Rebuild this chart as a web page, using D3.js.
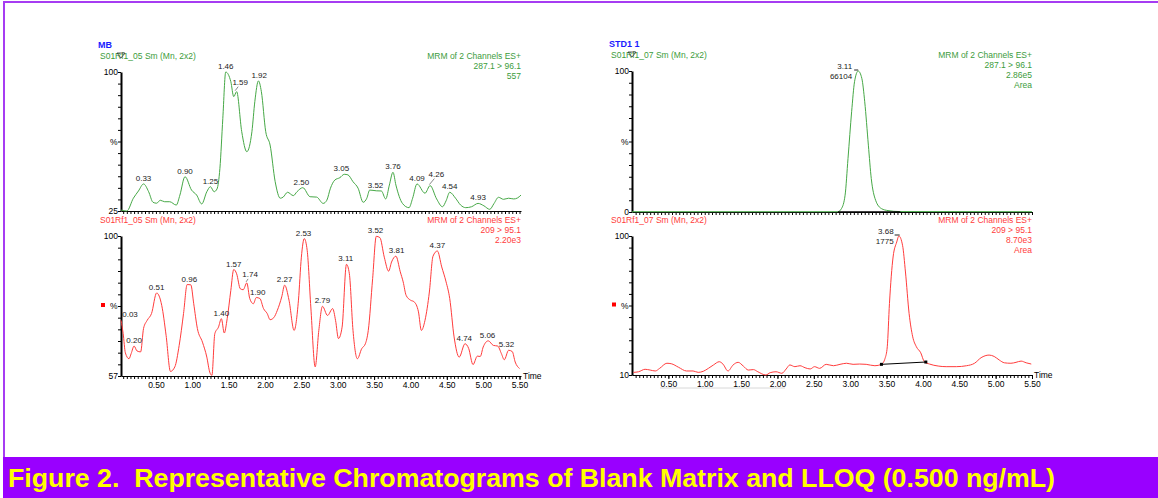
<!DOCTYPE html>
<html>
<head>
<meta charset="utf-8">
<script src="https://cdn.jsdelivr.net/npm/d3@7"></script>
<style>
body { margin: 0; background: #fff; }
text { font-family: "Liberation Sans", Arial, sans-serif; }
</style>
</head>
<body>
<svg id="chart" width="1158" height="498"></svg>
<script>
// ---- data ----
// MB, channel 287.1 > 96.1
const mbQTimes = [0.02,0.10,0.19,0.26,0.33,0.40,0.46,0.51,0.56,0.62,
  0.69,0.78,0.83,0.90,0.99,1.06,1.13,1.20,1.25,1.30,
  1.34,1.38,1.42,1.46,1.53,1.57,1.61,1.68,1.75,1.82,
  1.86,1.91,1.95,2.01,2.07,2.14,2.21,2.25,2.31,2.39,
  2.44,2.52,2.62,2.71,2.80,2.85,2.90,2.96,3.03,3.09,
  3.14,3.21,3.28,3.35,3.40,3.44,3.53,3.60,3.66,3.71,
  3.76,3.80,3.89,3.98,4.03,4.09,4.20,4.27,4.36,4.44,
  4.49,4.54,4.62,4.69,4.76,4.84,4.93,5.01,5.09,5.15,
  5.21,5.28,5.35,5.42,5.47,5.52]
const mbQValues = [25.5,25.0,31.9,35.8,39.6,35.4,29.7,29.2,30.8,30.0,
  30.0,28.2,33.6,43.5,36.3,33.6,28.8,35.4,38.1,35.4,
  36.9,48.0,75.0,100.0,94.8,86.7,89.4,67.8,57.0,67.8,
  84.0,95.2,89.4,67.8,60.6,40.8,31.9,32.5,35.1,33.3,
  35.4,37.6,32.7,32.5,29.1,30.8,37.3,41.7,43.0,44.8,
  44.5,40.8,37.3,29.7,31.9,36.3,35.9,35.8,31.5,39.0,
  45.9,39.0,29.1,26.8,31.9,39.6,34.6,38.7,31.5,27.3,
  30.5,35.1,31.9,28.2,26.8,27.3,29.1,27.8,25.9,29.1,
  32.4,31.3,31.9,31.5,32.0,33.6]
const mbQPeakTimes = [0.33,0.90,1.25,1.46,1.59,1.92,2.50,3.05,3.52,3.76,4.09,4.26,4.54,4.93]
const mbQPeakValues = [39.6,43.5,38.1,100,89.4,95.2,37.6,44.8,35.9,45.9,39.6,38.7,35.1,29.1]

// MB, channel 209 > 95.1
const mbITimes = [0.02,0.05,0.08,0.13,0.16,0.20,0.24,0.29,0.33,0.38,
  0.44,0.51,0.58,0.64,0.70,0.76,0.82,0.88,0.93,0.98,
  1.02,1.07,1.14,1.20,1.24,1.27,1.31,1.36,1.40,1.44,
  1.48,1.53,1.57,1.61,1.66,1.70,1.75,1.79,1.84,1.88,
  1.93,1.98,2.03,2.07,2.12,2.17,2.23,2.27,2.33,2.40,
  2.46,2.50,2.54,2.58,2.63,2.69,2.74,2.79,2.86,2.93,
  2.97,3.01,3.06,3.12,3.16,3.21,3.27,3.33,3.38,3.42,
  3.48,3.53,3.58,3.64,3.70,3.74,3.80,3.86,3.90,3.94,
  4.00,4.05,4.11,4.15,4.20,4.26,4.31,4.37,4.43,4.49,
  4.54,4.60,4.67,4.75,4.80,4.86,4.92,4.96,5.00,5.07,
  5.14,5.20,5.25,5.29,5.35,5.40,5.44,5.50]
const mbIValues = [74.1,70.0,64.1,62.3,63.9,66.2,64.7,64.4,71.6,74.1,
  76.2,82.5,78.7,69.5,58.4,59.8,66.4,76.2,85.1,85.0,
  79.2,71.6,67.4,62.8,58.2,57.2,70.0,72.0,74.6,70.2,
  74.6,83.3,89.7,88.4,83.8,83.5,85.6,80.8,79.2,81.1,
  80.8,77.7,76.2,74.3,74.9,77.2,81.3,84.9,80.3,71.0,
  80.3,93.5,99.2,95.6,78.2,59.8,71.0,78.4,75.6,77.7,
  74.1,68.5,72.0,91.3,88.4,71.0,62.3,65.4,66.9,71.0,
  86.9,99.9,99.5,93.5,89.2,92.0,93.8,89.0,85.9,81.8,
  80.3,79.8,76.7,71.0,74.1,82.8,93.8,95.4,90.5,85.9,
  80.8,69.0,62.8,66.9,65.5,60.5,63.1,63.0,65.9,67.8,
  66.4,66.2,63.9,62.0,64.9,64.5,61.3,59.3]
const mbIPeakTimes = [0.03,0.20,0.51,0.96,1.40,1.57,1.74,1.90,2.27,2.53,2.79,3.11,3.52,3.81,4.37,4.74,5.06,5.32]
const mbIPeakValues = [74.1,66.2,82.5,85.1,74.6,89.7,85.6,81.1,84.9,99.2,78.4,91.3,99.9,93.8,95.4,66.9,67.8,64.9]

// STD1 1, channel 287.1 > 96.1
const stdQTimes = [0.00,2.83,2.88,2.93,2.97,3.02,3.06,3.11,3.16,3.20,3.25,3.29,3.35,3.43,3.52,3.68,5.50]
const stdQValues = [0.2,0.2,2.4,11.9,37.9,71.1,92.4,100,94.8,78.2,47.4,23.7,8.3,2.4,1.0,0.3,0.2]

// STD1 1, channel 209 > 95.1
const stdITimes = [0.02,0.09,0.18,0.25,0.32,0.38,0.48,0.54,0.64,0.75,
  0.84,0.91,0.98,1.05,1.12,1.20,1.25,1.32,1.39,1.46,
  1.53,1.60,1.67,1.73,1.84,1.90,1.98,2.06,2.12,2.17,
  2.24,2.31,2.38,2.45,2.51,2.58,2.67,2.77,2.86,2.95,
  3.04,3.13,3.22,3.34,3.43,3.48,3.51,3.54,3.59,3.64,
  3.67,3.72,3.76,3.81,3.86,3.91,3.97,4.02,4.09,4.21,
  4.32,4.46,4.60,4.71,4.80,4.91,4.98,5.05,5.12,5.21,
  5.28,5.35,5.42,5.49]
const stdIValues = [11.7,12.1,13.7,13.2,12.6,14.3,17.6,17.3,15.0,12.6,
  12.6,11.7,12.4,14.3,16.5,18.6,17.1,12.6,16.5,18.2,
  15.8,13.2,13.5,12.1,10.0,11.5,12.1,11.1,13.9,16.5,
  15.4,16.0,14.7,13.9,15.4,14.3,16.9,16.0,16.9,17.6,
  16.9,17.1,16.9,16.0,16.9,20.8,28.3,56.3,86.4,96.1,
  100,94.0,76.7,49.9,34.7,28.3,24.4,18.6,17.1,15.8,
  15.4,15.4,16.0,17.6,21.2,22.9,22.0,19.7,17.9,17.6,
  18.2,19.0,17.9,17.1]
const stdIBaseTimes = [3.43,4.04]
const stdIBaseValues = [16.9,18.4]

const tickLabels = [0.5,1.0,1.5,2.0,2.5,3.0,3.5,4.0,4.5,5.0,5.5]

const green = '#46a846', greenText = '#3c9c3c', red = '#ff3c3c', blue = '#1a1aff'

const svg = d3.select('#chart')

// frame
svg.append('rect').attr('x',3).attr('y',1).attr('width',1155).attr('height',2).attr('fill','#a63cf2')
svg.append('rect').attr('x',3).attr('y',1).attr('width',2).attr('height',457).attr('fill','#a63cf2')
svg.append('rect').attr('x',3).attr('y',457).attr('width',1155).attr('height',41).attr('fill','#9900ff')
svg.append('text')
  .attr('x',8).attr('y',487)
  .attr('font-size',25).attr('font-weight','bold').attr('fill','#ffff00')
  .attr('textLength',1047).attr('lengthAdjust','spacingAndGlyphs')
  .style('white-space','pre')
  .text('Figure 2.  Representative Chromatograms of Blank Matrix and LLOQ (0.500 ng/mL)')

function txt(x, y, s, color, anchor, size, weight) {
  svg.append('text').attr('x',x).attr('y',y)
    .attr('font-size', size || 8.5)
    .attr('font-weight', weight || 'normal')
    .attr('text-anchor', anchor || 'start')
    .attr('fill', color)
    .text(s)
}

function panel(p) {
  const x = d3.scaleLinear().domain(p.xDomain).range([p.left, p.right])
  const y = d3.scaleLinear().domain(p.yDomain).range([p.bottom, p.top])

  // x axis: minor ticks every 0.05
  const minor = d3.range(1, 111).map(i => i * 0.05).filter(t => t >= p.xDomain[0] && t <= p.xDomain[1])
  const gx = svg.append('g').attr('transform', `translate(0,${p.bottom})`)
    .call(d3.axisBottom(x).tickValues(minor).tickSize(3).tickSizeOuter(0).tickFormat(''))
  gx.select('.domain').attr('stroke','#000')
  if (p.labels) {
    const gl = svg.append('g').attr('transform', `translate(0,${p.bottom})`)
      .call(d3.axisBottom(x).tickValues(tickLabels).tickSize(4).tickSizeOuter(0).tickFormat(d3.format('.2f')))
    gl.select('.domain').remove()
    gl.selectAll('text').attr('font-size', 8.5).attr('fill','#000').attr('dy','0.6em')
      .style('font-family','"Liberation Sans", Arial, sans-serif')
    txt(p.right + 2, p.bottom + 3, 'Time', '#000')
  }

  // y axis
  const yt = d3.range(0, 13).map(i => p.yDomain[0] + i * (p.yDomain[1] - p.yDomain[0]) / 12)
  const gy = svg.append('g').attr('transform', `translate(${p.left},0)`)
    .call(d3.axisLeft(y).tickValues(yt).tickSize(3).tickSizeOuter(0).tickFormat(''))
  gy.select('.domain').attr('stroke','#000').attr('stroke-width',2)
  txt(p.left - 3, y(p.yDomain[1]) + 3, '100', '#000', 'end')
  txt(p.left - 3, p.bottom + 3, String(p.yDomain[0]), '#000', 'end')
  txt(p.left - 11, (p.top + p.bottom) / 2 + 3, '%', '#000')
  if (p.marker) {
    svg.append('rect').attr('x', p.left - 20).attr('y', (p.top + p.bottom) / 2 - 3)
      .attr('width',4).attr('height',4).attr('fill','#ff0000')
  }

  // trace
  const pts = p.times.map((t, i) => [t, p.values[i]])
  svg.append('path').datum(pts)
    .attr('fill','none').attr('stroke', p.color).attr('stroke-width',1)
    .attr('d', d3.line().x(d => x(d[0])).y(d => y(d[1])).curve(d3.curveMonotoneX))

  // peak labels (a few are nudged aside with a leader, as in the software's output)
  if (p.peakTimes) {
    const nudge = p.nudge || {}
    p.peakTimes.forEach((t, i) => {
      const k = t.toFixed(2)
      const off = nudge[k] || [0, 0]
      const px = Math.max(x(t), p.left + 9) + off[0]
      const py = y(p.peakValues[i]) - 3 + off[1]
      if (nudge[k]) {
        svg.append('line').attr('x1', x(t)).attr('y1', y(p.peakValues[i]) - 1)
          .attr('x2', px - 2).attr('y2', py + 2).attr('stroke','#555').attr('stroke-width',0.7)
      }
      txt(px, py, k, '#222', 'middle', 8)
    })
  }

  // headers
  const hx = p.right
  let hy = p.top - 13
  if (p.title) txt(p.left - 23, p.top - 24, p.title, blue, 'start', 9, 'bold')
  txt(p.left - 21, hy, p.sub, p.textColor)
  p.info.forEach((s, i) => txt(hx, hy + i * 10, s, p.textColor, 'end'))
  if (p.title) {
    svg.append('path')
      .attr('d', `M${p.left - 4},${p.top - 19}H${p.left + 4}L${p.left},${p.top - 14}Z`)
      .attr('fill','none').attr('stroke','#333').attr('stroke-width',0.8)
  }
  return { x, y }
}

panel({ left:121, right:521, top:72, bottom:211, xDomain:[0.02,5.52], yDomain:[25,100],
  times: mbQTimes, values: mbQValues, color: green, textColor: greenText,
  peakTimes: mbQPeakTimes, peakValues: mbQPeakValues, nudge: { '1.59': [5, -4], '4.26': [7, -6] },
  title:'MB', sub:'S01Rf1_05 Sm (Mn, 2x2)', info:['MRM of 2 Channels ES+','287.1 > 96.1','557'] })

panel({ left:121, right:521, top:236, bottom:376, xDomain:[0.02,5.52], yDomain:[57,100],
  times: mbITimes, values: mbIValues, color: red, textColor: red, labels:true, marker:true,
  peakTimes: mbIPeakTimes, peakValues: mbIPeakValues, nudge: { '1.74': [4, -3] },
  sub:'S01Rf1_05 Sm (Mn, 2x2)', info:['MRM of 2 Channels ES+','209 > 95.1','2.20e3'] })

const c = panel({ left:632, right:1032, top:71, bottom:212, xDomain:[0,5.5], yDomain:[0,100],
  times: stdQTimes, values: stdQValues, color: green, textColor: greenText,
  title:'STD1 1', sub:'S01Rf1_07 Sm (Mn, 2x2)', info:['MRM of 2 Channels ES+','287.1 > 96.1','2.86e5','Area'] })
// integration baseline
svg.append('line').attr('x1', c.x(2.83)).attr('x2', c.x(3.69)).attr('y1', c.y(0)).attr('y2', c.y(0))
  .attr('stroke','#000').attr('stroke-width',1.5)
txt(c.x(3.11) - 6, c.y(100) - 2, '3.11', '#222', 'end', 8)
txt(c.x(3.11) - 6, c.y(100) + 8, '66104', '#222', 'end', 8)
svg.append('line').attr('x1', c.x(3.11) - 4).attr('x2', c.x(3.11)).attr('y1', c.y(100) - 1).attr('y2', c.y(100) - 1)
  .attr('stroke','#222')

const d = panel({ left:632, right:1032, top:236, bottom:375, xDomain:[0,5.5], yDomain:[10,100],
  times: stdITimes, values: stdIValues, color: red, textColor: red, labels:true, marker:true,
  sub:'S01Rf1_07 Sm (Mn, 2x2)', info:['MRM of 2 Channels ES+','209 > 95.1','8.70e3','Area'] })
svg.append('line').attr('x1', d.x(stdIBaseTimes[0])).attr('x2', d.x(stdIBaseTimes[1]))
  .attr('y1', d.y(stdIBaseValues[0])).attr('y2', d.y(stdIBaseValues[1])).attr('stroke','#000')
stdIBaseTimes.forEach((t, i) => {
  svg.append('rect').attr('x', d.x(t) - 1.5).attr('y', d.y(stdIBaseValues[i]) - 1.5)
    .attr('width',3).attr('height',3).attr('fill','#000')
})
txt(d.x(3.68) - 6, d.y(100) - 2, '3.68', '#222', 'end', 8)
txt(d.x(3.68) - 6, d.y(100) + 8, '1775', '#222', 'end', 8)
svg.append('line').attr('x1', d.x(3.68) - 5).attr('x2', d.x(3.68)).attr('y1', d.y(100) - 1).attr('y2', d.y(100) - 1)
  .attr('stroke','#222')
svg.append('line').attr('x1', 660).attr('x2', 785).attr('y1', 388).attr('y2', 388).attr('stroke','#d8d8d8')
</script>
</body>
</html>
